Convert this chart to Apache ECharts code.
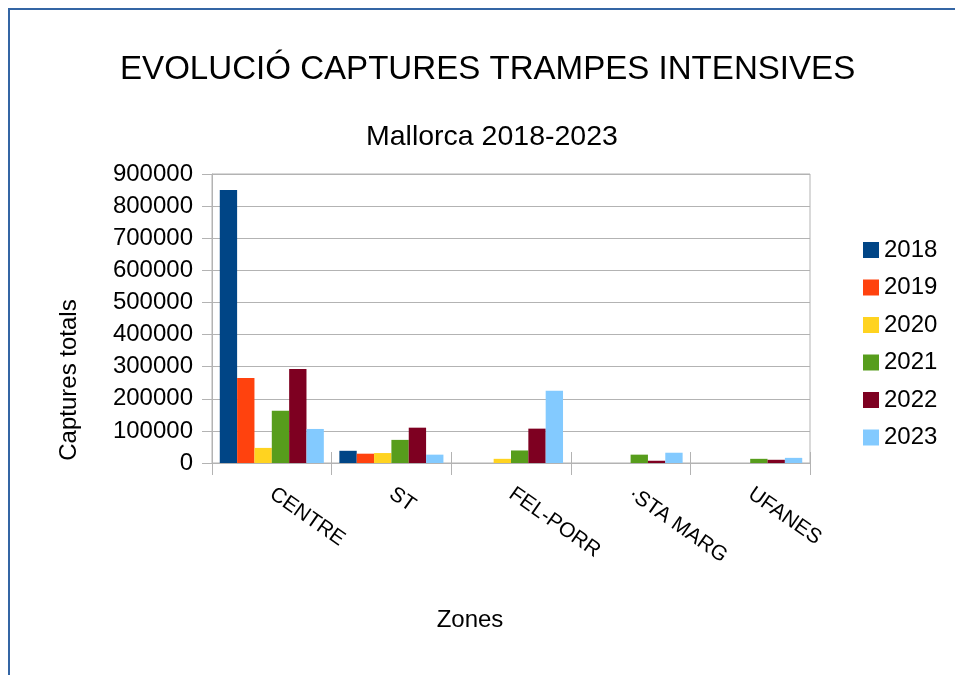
<!DOCTYPE html>
<html>
<head>
<meta charset="utf-8">
<script src="https://cdn.jsdelivr.net/npm/echarts@6/dist/echarts.min.js"></script>
<style>html,body{margin:0;padding:0;background:#fff;}#c{width:955px;height:675px;}</style>
</head>
<body>
<div id="c"></div>
<script>
var categories = ['CENTRE', 'ST', 'FEL-PORR', '·STA MARG', 'UFANES'];
var years = ['2018', '2019', '2020', '2021', '2022', '2023'];
var v2018 = [850000, 38000, 0, 0, 0];
var v2019 = [265000, 29000, 0, 0, 0];
var v2020 = [47000, 31000, 13000, 0, 0];
var v2021 = [163000, 72000, 39000, 26000, 13000];
var v2022 = [293000, 110000, 107000, 7000, 10000];
var v2023 = [106000, 26000, 225000, 32000, 16000];
var seriesValues = [v2018, v2019, v2020, v2021, v2022, v2023];
var colors = ['#004586', '#ff420e', '#ffd320', '#579d1c', '#7e0021', '#83caff'];
var yTicks = [0, 100000, 200000, 300000, 400000, 500000, 600000, 700000, 800000, 900000];

var FONT = 'Liberation Sans';
var GRID_C = '#b3b3b3';

var chart = echarts.init(document.getElementById('c'), null, {renderer: 'canvas'});
var series = years.map(function (y, i) {
  return {
    name: y,
    type: 'bar',
    data: seriesValues[i],
    barGap: '0%',
    barCategoryGap: '13%',
    itemStyle: {color: colors[i]},
    xAxisIndex: 0,
    yAxisIndex: 0
  };
});

chart.setOption({
  animation: false,
  backgroundColor: '#ffffff',
  textStyle: {fontFamily: FONT},
  title: [
    {text: 'EVOLUCIÓ CAPTURES TRAMPES INTENSIVES', left: 115, top: 48,
     textStyle: {fontFamily: FONT, fontSize: 33.1, fontWeight: 'normal', color: '#000'}},
    {text: 'Mallorca 2018-2023', left: 361, top: 118,
     textStyle: {fontFamily: FONT, fontSize: 28.5, fontWeight: 'normal', color: '#000'}}
  ],
  legend: {
    orient: 'vertical',
    left: 858,
    top: 233,
    itemWidth: 16,
    itemHeight: 16,
    itemGap: 13.5,
    icon: 'rect',
    data: years,
    textStyle: {fontFamily: FONT, fontSize: 24, lineHeight: 24, color: '#000', padding: [0, 0, 0, 0]}
  },
  grid: {
    left: 212, top: 174, right: 145, bottom: 212,
    show: true, borderColor: GRID_C, borderWidth: 1,
    containLabel: false,
    outerBoundsMode: 'none'
  },
  xAxis: [
    {
      type: 'category',
      data: categories,
      axisLine: {show: true, lineStyle: {color: GRID_C}},
      axisTick: {show: true, length: 12, lineStyle: {color: GRID_C}},
      axisLabel: {rotate: -35, margin: 29, fontFamily: FONT, fontSize: 21, color: '#000', interval: 0},
      splitLine: {show: false}
    },
    {
      type: 'category',
      data: categories,
      position: 'bottom',
      axisLine: {show: false},
      axisTick: {show: true, inside: true, length: 11, lineStyle: {color: GRID_C}},
      axisLabel: {show: false},
      splitLine: {show: false}
    }
  ],
  yAxis: [
    {
      type: 'value',
      min: yTicks[0],
      max: yTicks[yTicks.length - 1],
      interval: yTicks[1] - yTicks[0],
      axisLine: {show: true, lineStyle: {color: GRID_C}},
      axisTick: {show: true, length: 10, lineStyle: {color: GRID_C}},
      axisLabel: {margin: 19, fontFamily: FONT, fontSize: 24, color: '#000',
                  formatter: function (v) { return String(v); }},
      splitLine: {show: true, lineStyle: {color: GRID_C, width: 1}}
    },
    {
      type: 'value',
      position: 'left',
      min: yTicks[0],
      max: yTicks[yTicks.length - 1],
      interval: yTicks[1] - yTicks[0],
      axisLine: {show: false},
      axisTick: {show: true, inside: true, length: 8, lineStyle: {color: GRID_C}},
      axisLabel: {show: false},
      splitLine: {show: false}
    }
  ],
  graphic: [
    {type: 'rect', shape: {x: 9, y: 9, width: 1200, height: 900}, style: {fill: 'none', stroke: '#3465a4', lineWidth: 2}, silent: true, z: -10},
    {type: 'text', x: 69, y: 380, rotation: Math.PI / 2,
     style: {text: 'Captures totals', fontFamily: FONT, fontSize: 24, fill: '#000', align: 'center', verticalAlign: 'middle'}},
    {type: 'text', x: 470, y: 620,
     style: {text: 'Zones', fontFamily: FONT, fontSize: 24, fill: '#000', align: 'center', verticalAlign: 'middle'}}
  ],
  series: series
});
</script>
</body>
</html>
